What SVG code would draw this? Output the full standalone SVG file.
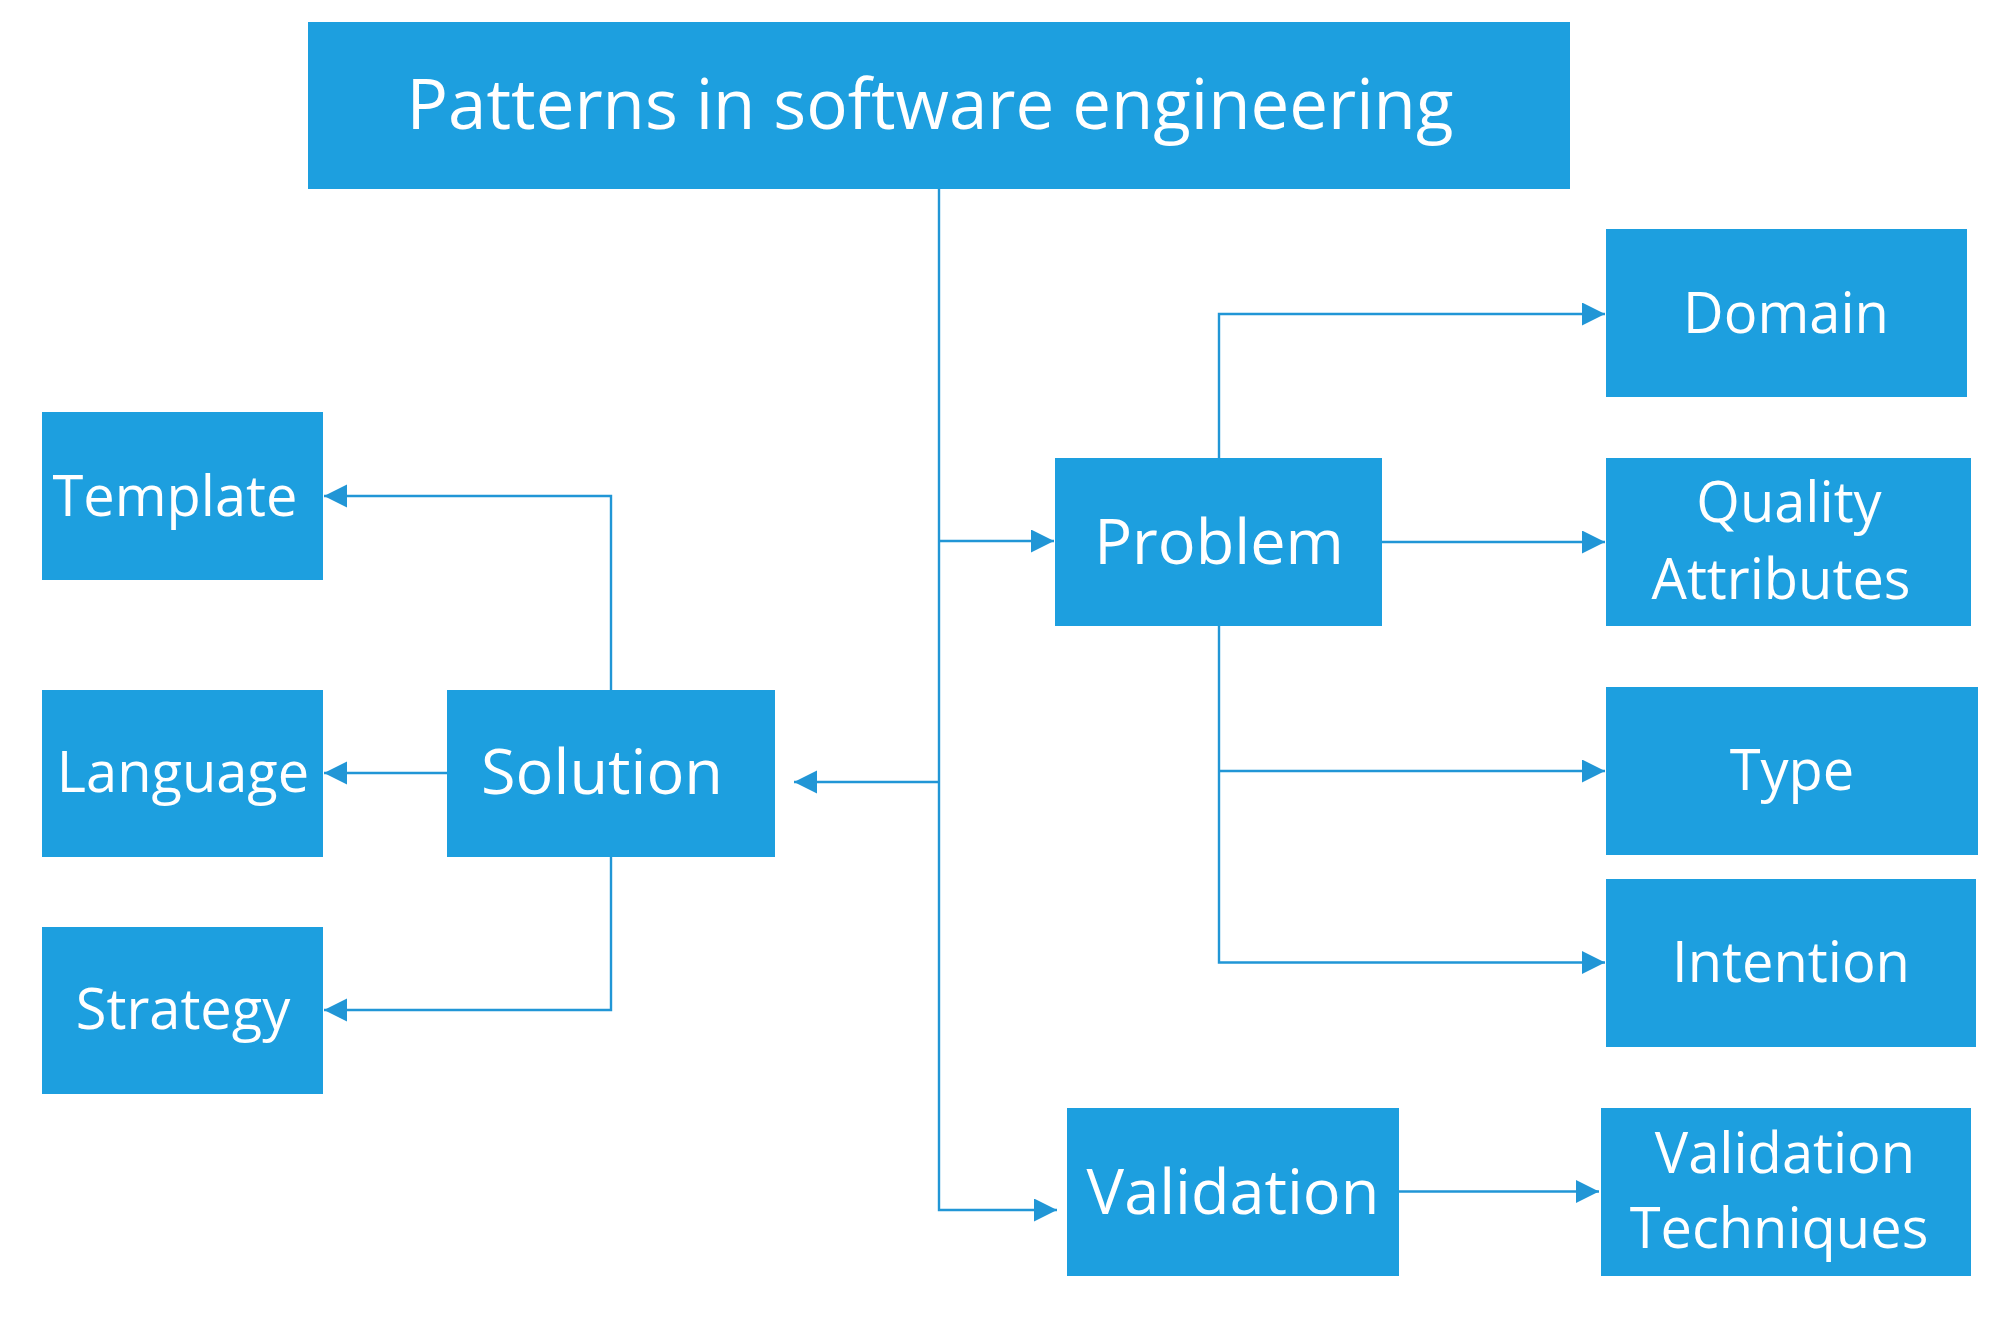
<svg xmlns="http://www.w3.org/2000/svg" width="2001" height="1319" viewBox="0 0 2001 1319">
  <style>
    .box { fill: #1d9fdf; }
    .lbl { fill: #ffffff; font-family: "Open Sans", "Noto Sans", "DejaVu Sans", sans-serif; text-anchor: middle; }
    .t69 { font-size: 69px; }
    .t64 { font-size: 63px; }
    .t57 { font-size: 56px; }
    .wire { fill: none; stroke: #2196d6; stroke-width: 2.4; }
    .arr { marker-end: url(#head); }
  </style>
  <defs>
    <marker id="head" markerUnits="userSpaceOnUse" markerWidth="24" markerHeight="24" refX="23" refY="11.5" orient="auto">
      <path d="M0,0 L23,11.5 L0,23 Z" fill="#2196d6"/>
    </marker>
  </defs>
  <rect width="2001" height="1319" fill="#ffffff"/>

  <!-- connectors -->
  <g id="connectors">
    <path class="wire arr" d="M939,189 V1210 H1057"/>
    <path class="wire arr" d="M939,541 H1054"/>
    <path class="wire arr" d="M939,782 H794"/>
    <path class="wire arr" d="M1219,458 V314 H1605"/>
    <path class="wire arr" d="M1382,542 H1605"/>
    <path class="wire arr" d="M1219,626 V962.5 H1605"/>
    <path class="wire arr" d="M1219,771 H1605"/>
    <path class="wire arr" d="M1399,1191.5 H1599"/>
    <path class="wire arr" d="M611,690 V496 H324"/>
    <path class="wire arr" d="M447,773 H324"/>
    <path class="wire arr" d="M611,857 V1010 H324"/>
  </g>

  <!-- nodes -->
  <g id="root">
    <rect class="box" x="308" y="22" width="1262" height="167"/>
    <text class="lbl t69" x="930" y="129">Patterns in software engineering</text>
  </g>
  <g id="problem">
    <rect class="box" x="1055" y="458" width="327" height="168"/>
    <text class="lbl t64" x="1219" y="564">Problem</text>
  </g>
  <g id="solution">
    <rect class="box" x="447" y="690" width="328" height="167"/>
    <text class="lbl t64" x="602" y="794">Solution</text>
  </g>
  <g id="validation">
    <rect class="box" x="1067" y="1108" width="332" height="168"/>
    <text class="lbl t64" x="1233" y="1214">Validation</text>
  </g>
  <g id="template">
    <rect class="box" x="42" y="412" width="281" height="168"/>
    <text class="lbl t57" x="175" y="516">Template</text>
  </g>
  <g id="language">
    <rect class="box" x="42" y="690" width="281" height="167"/>
    <text class="lbl t57" x="183" y="792">Language</text>
  </g>
  <g id="strategy">
    <rect class="box" x="42" y="927" width="281" height="167"/>
    <text class="lbl t57" x="183" y="1029">Strategy</text>
  </g>
  <g id="domain">
    <rect class="box" x="1606" y="229" width="361" height="168"/>
    <text class="lbl t57" x="1786" y="333">Domain</text>
  </g>
  <g id="quality-attributes">
    <rect class="box" x="1606" y="458" width="365" height="168"/>
    <text class="lbl t57" x="1789" y="522">Quality</text>
    <text class="lbl t57" x="1781" y="599">Attributes</text>
  </g>
  <g id="type">
    <rect class="box" x="1606" y="687" width="372" height="168"/>
    <text class="lbl t57" x="1792" y="790">Type</text>
  </g>
  <g id="intention">
    <rect class="box" x="1606" y="879" width="370" height="168"/>
    <text class="lbl t57" x="1791" y="982">Intention</text>
  </g>
  <g id="validation-techniques">
    <rect class="box" x="1601" y="1108" width="370" height="168"/>
    <text class="lbl t57" x="1785" y="1173">Validation</text>
    <text class="lbl t57" x="1779" y="1248">Techniques</text>
  </g>
</svg>
